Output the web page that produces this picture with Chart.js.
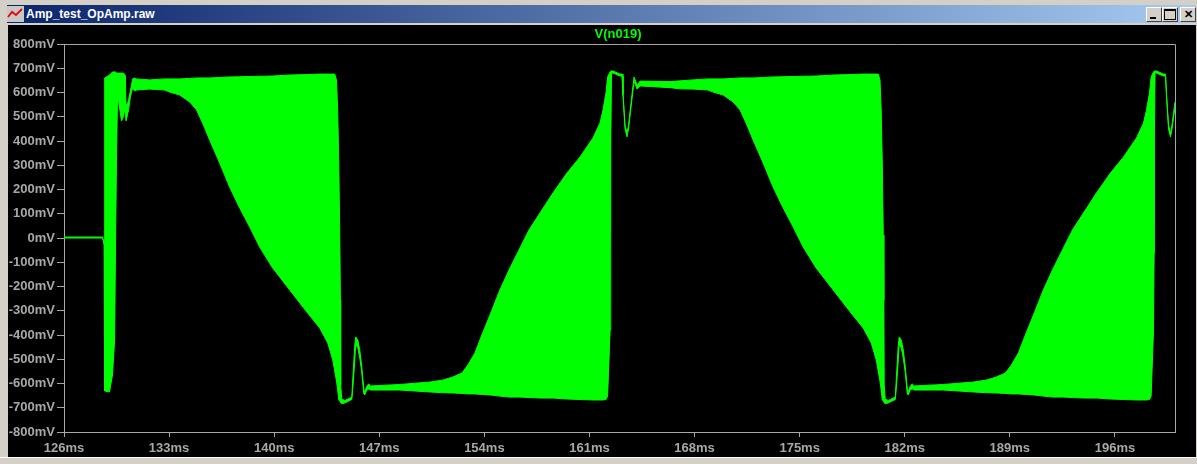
<!DOCTYPE html>
<html>
<head>
<meta charset="utf-8">
<title>Amp_test_OpAmp.raw</title>
<script src="https://cdn.jsdelivr.net/npm/chart.js@4"></script>
<style>
html, body { margin: 0; padding: 0; width: 1197px; height: 464px; overflow: hidden; background: #d4d0c8; }
#bar { position: absolute; left: 7px; top: 5px; width: 1189px; height: 18px; background: linear-gradient(to right, #0a246a, #a6caf0); }
#bar span { position: absolute; left: 19px; top: 1px; color: #fff; font: bold 12px "Liberation Sans", sans-serif; line-height: 16px; }
#bar svg { position: absolute; left: 0; top: 1px; }
.btn { position: absolute; top: 7px; width: 14px; height: 13px; background: #d4d0c8; border: 1px solid; border-color: #fff #404040 #404040 #fff; }
.btn i { position: absolute; display: block; box-sizing: border-box; }
#pane { position: absolute; left: 8px; top: 25px; width: 1188px; height: 432px; background: #000; }
#line { position: absolute; left: 0; top: 457px; width: 1197px; height: 1px; background: #fff; }
</style>
</head>
<body>
<div id="bar">
  <svg width="17" height="16"><rect width="17" height="16" fill="#c8c8c8"/><path d="M1 11 L5 6 L9 9 L15 3" stroke="#e01010" stroke-width="2" fill="none"/></svg>
  <span>Amp_test_OpAmp.raw</span>
</div>
<div class="btn" style="left:1146px"><i style="left:3px;top:9px;width:6px;height:2px;background:#000"></i></div>
<div class="btn" style="left:1162px"><i style="left:1px;top:1px;width:12px;height:11px;border:1px solid #000;border-top-width:2px"></i></div>
<div class="btn" style="left:1180px"><i style="left:3px;top:0px;font:bold 11px 'Liberation Sans';font-style:normal;color:#000">✕</i></div>
<div id="pane"><canvas id="scope" width="1188" height="432"></canvas></div>
<div id="line"></div>
<script>
// LTspice trace V(n019): the carrier is too dense to read, so upper and lower envelope are kept
const timeMs = [
  126, 128.57, 128.67, 128.71, 129.03, 129.23, 129.37, 129.43, 129.5, 129.57, 129.7, 129.83, 129.93, 130.03, 130.09, 130.13, 130.17, 130.3, 130.43, 130.57, 130.7, 130.83,
  131.7, 132.7,
  133.03, 133.7, 134.37, 134.83, 135.23, 135.7, 136.37, 137.03, 137.7, 138.37, 139.03, 139.9, 141.03, 142.17, 143.03, 143.57, 143.9, 144.03, 144.15, 144.23, 144.3, 144.37, 144.41, 144.43, 144.5, 144.7,
  145.17, 145.27, 145.37, 145.43, 145.57, 145.7, 145.83, 145.97, 146.03, 146.17, 146.3, 146.43,
  148.37, 150.37, 151.23, 151.9, 152.5, 152.9, 153.37, 153.83, 154.37, 155.03, 155.7, 156.37, 156.97, 157.7, 158.57, 159.5, 160.37, 161.23, 161.7, 161.9, 162.1, 162.21, 162.37, 162.41, 162.43, 162.47,
  162.57, 163.03, 163.17, 163.23, 163.37, 163.5, 163.6, 163.83, 163.97, 164.17, 164.37, 166.37,
  167.03, 167.9, 168.9,
  169.23, 169.9, 170.57, 171.03, 171.43, 171.9, 172.57, 173.23, 173.9, 174.57, 175.23, 176.1, 177.23, 178.37, 179.23, 179.77, 180.1, 180.23, 180.35, 180.43, 180.5, 180.57, 180.61, 180.63, 180.7, 180.9,
  181.37, 181.47, 181.57, 181.63, 181.77, 181.9, 182.03, 182.17, 182.23, 182.37, 182.5, 182.63,
  184.57, 186.57, 187.43, 188.1, 188.7, 189.1, 189.57, 190.03, 190.57, 191.23, 191.9, 192.57, 193.17, 193.9, 194.77, 195.7, 196.57, 197.43, 197.9, 198.1, 198.3, 198.41, 198.57, 198.61, 198.63, 198.67,
  198.77, 199.23, 199.37, 199.43, 199.57, 199.7, 199.8, 200
];
const upperMv = [
  4, 4, -21, 660, 672, 685, 685, 685, 680, 680, 680, 680, 680, 676, 668, 553, 540, 569, 610, 656, 660, 656,
  652, 656,
  656, 656, 658, 660, 660, 660, 662, 664, 665, 666, 667, 668, 672, 674, 676, 676, 676, 676, 652, 528, 322, 12, -256, -606, -664, -670,
  -656, -544, -441, -408, -421, -462, -528, -623, -635, -610, -602, -610,
  -604, -594, -586, -573, -557, -524, -474, -400, -318, -214, -124, -41, 33, 103, 186, 268, 334, 412, 474, 528, 598, 664, 685, 687, 689, 689,
  689, 676, 676, 598, 466, 433, 466, 590, 664, 631, 647, 645,
  648, 652, 656,
  656, 656, 658, 660, 660, 660, 662, 664, 665, 666, 667, 668, 672, 674, 676, 676, 676, 676, 652, 528, 322, 12, -256, -606, -664, -670,
  -656, -544, -441, -408, -421, -462, -528, -623, -635, -610, -602, -610,
  -604, -594, -586, -573, -557, -524, -474, -400, -318, -214, -124, -41, 33, 103, 186, 268, 334, 412, 474, 528, 598, 664, 685, 687, 689, 689,
  689, 676, 676, 598, 466, 433, 466, 561
];
const lowerMv = [
  0, 0, -29, -631, -635, -565, -421, -49, 342, 590, 536, 483, 495, 528, 507, 483, 483, 528, 586, 619, 606, 610,
  614, 610,
  602, 590, 561, 528, 474, 404, 309, 210, 124, 45, -37, -124, -214, -305, -371, -433, -503, -548, -590, -627, -668, -672, -676, -680, -683, -680,
  -666, -594, -503, -437, -454, -495, -553, -643, -647, -627, -623, -627,
  -627, -635, -638, -639, -641, -643, -643, -645, -647, -652, -656, -656, -658, -660, -660, -664, -666, -668, -668, -668, -666, -652, -379, -62, 417, 680,
  680, 668, 668, 590, 450, 417, 450, 573, 647, 614, 627, 620,
  615, 614, 610,
  602, 590, 561, 528, 474, 404, 309, 210, 124, 45, -37, -124, -214, -305, -371, -433, -503, -548, -590, -627, -668, -672, -676, -680, -683, -680,
  -666, -594, -503, -437, -454, -495, -553, -643, -647, -627, -623, -627,
  -627, -635, -638, -639, -641, -643, -643, -645, -647, -652, -656, -656, -658, -660, -660, -664, -666, -668, -668, -668, -666, -652, -379, -62, 417, 680,
  680, 668, 668, 590, 450, 417, 450, 540
];

const traceColor = '#00ff00';
const axisColor = '#a8a8a8';
const axisFont = { family: 'Liberation Sans', size: 13, weight: 'bold' };

// top and right edge of the plot frame, the scales only give left and bottom
// the trace name also sits right of the window centre in LTspice
const frame = {
  id: 'frame',
  afterLayout(chart) {
    chart.titleBlock.left = 0;
    chart.titleBlock.right = 1220;
  },
  afterDraw(chart) {
    const a = chart.chartArea, c = chart.ctx;
    c.save();
    c.strokeStyle = axisColor;
    c.lineWidth = 1;
    c.beginPath();
    c.moveTo(a.left, a.top + 0.5);
    c.lineTo(a.right + 0.5, a.top + 0.5);
    c.lineTo(a.right + 0.5, a.bottom);
    c.stroke();
    c.restore();
  }
};

new Chart(document.getElementById('scope').getContext('2d'), {
  type: 'line',
  data: {
    datasets: [
      {
        label: 'upper',
        data: timeMs.map((t, i) => ({ x: t, y: upperMv[i] })),
        borderColor: traceColor,
        backgroundColor: traceColor,
        borderWidth: 1,
        pointRadius: 0,
        tension: 0,
        fill: '+1'
      },
      {
        label: 'lower',
        data: timeMs.map((t, i) => ({ x: t, y: lowerMv[i] })),
        borderColor: traceColor,
        borderWidth: 1,
        pointRadius: 0,
        tension: 0,
        fill: false
      }
    ]
  },
  options: {
    responsive: false,
    animation: false,
    layout: { padding: { left: 0, right: 21, top: 0, bottom: 0 } },
    plugins: {
      legend: { display: false },
      tooltip: { enabled: false },
      title: {
        display: true,
        text: 'V(n019)',
        color: traceColor,
        font: { family: 'Liberation Sans', size: 13, weight: 'bold' },
        padding: { top: 2, bottom: 1.4 }
      }
    },
    scales: {
      x: {
        type: 'linear',
        min: 126,
        max: 200,
        afterFit(s) { s.height = 25; },
        afterBuildTicks(s) { s.ticks = s.ticks.filter(t => t.value <= 196); },
        grid: { drawOnChartArea: false, color: axisColor, tickColor: axisColor, tickLength: 5 },
        border: { color: axisColor },
        ticks: {
          stepSize: 7,
          color: axisColor,
          font: axisFont,
          padding: 4,
          maxRotation: 0,
          autoSkip: false,
          callback: v => v + 'ms'
        }
      },
      y: {
        min: -800,
        max: 800,
        afterFit(s) { s.width = 56; },
        grid: { drawOnChartArea: false, color: axisColor, tickColor: axisColor, tickLength: 7 },
        border: { color: axisColor },
        ticks: {
          stepSize: 100,
          color: axisColor,
          font: axisFont,
          padding: 2,
          autoSkip: false,
          callback: v => v + 'mV'
        }
      }
    }
  },
  plugins: [frame]
});
</script>
</body>
</html>
